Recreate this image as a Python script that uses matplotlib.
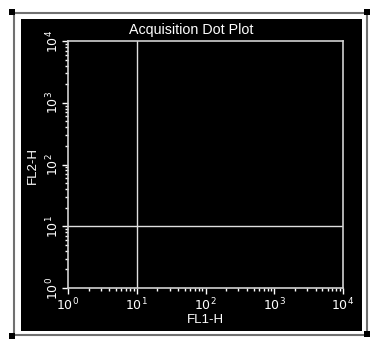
import matplotlib
matplotlib.use("Agg")
import matplotlib.pyplot as plt
from matplotlib.patches import Rectangle

title = "Acquisition Dot Plot"
x_label = "FL1-H"
y_label = "FL2-H"
x_range = [1, 10000]
y_range = [1, 10000]
major_ticks = [1, 10, 100, 1000, 10000]
tick_labels = [r"$10^{0}$", r"$10^{1}$", r"$10^{2}$", r"$10^{3}$", r"$10^{4}$"]
quadrant_x = 10
quadrant_y = 10

W, H = 370, 339
fig = plt.figure(figsize=(W / 100, H / 100), dpi=100, facecolor="white")

def fx(px):
    return px / W

def fy(py):
    return 1 - py / H

# outer grey border
fig.patches.append(Rectangle((fx(14), fy(335)), fx(367) - fx(14), fy(13) - fy(335),
                             transform=fig.transFigure, fill=False, edgecolor="#707070",
                             lw=1.5, zorder=-2))
# black panel
fig.patches.append(Rectangle((fx(21), fy(331)), fx(362) - fx(21), fy(19) - fy(331),
                             transform=fig.transFigure, facecolor="black", edgecolor="none",
                             zorder=-1))
# corner handles
for cx, cy in [(12, 12), (12, 336), (367, 12), (367, 334)]:
    fig.patches.append(Rectangle((fx(cx - 3), fy(cy + 3)), 6 / W, 6 / H,
                                 transform=fig.transFigure, facecolor="black",
                                 edgecolor="none", zorder=-1))

ax = fig.add_axes([fx(68), fy(288), fx(343) - fx(68), fy(41) - fy(288)])
ax.set_facecolor("black")
ax.set_xscale("log")
ax.set_yscale("log")
ax.set_xlim(x_range)
ax.set_ylim(y_range)
for s in ax.spines.values():
    s.set_color("#d0d0d0")
    s.set_linewidth(1.2)

ax.axvline(quadrant_x, color="#e0e0e0", lw=1)
ax.axhline(quadrant_y, color="#e0e0e0", lw=1)

ax.set_xticks(major_ticks)
ax.set_xticklabels(tick_labels)
ax.set_yticks(major_ticks)
ax.set_yticklabels(tick_labels, rotation=90, va="center")
ax.tick_params(axis="both", which="major", colors="white", length=4, width=1, labelsize=9, pad=2)
ax.tick_params(axis="both", which="minor", colors="white", length=2.5, width=1)
ax.tick_params(axis="y", which="major", pad=1)

ax.set_xlabel(x_label, color="white", fontsize=9.5, fontfamily="Liberation Sans")
ax.xaxis.set_label_coords((205 - 68) / (343 - 68), -(320 - 288) / (288 - 41), transform=ax.transAxes)
ax.set_ylabel(y_label, color="white", fontsize=9.5, fontfamily="Liberation Sans")
ax.yaxis.set_label_coords(-(68 - 33) / (343 - 68), (288 - 165) / (288 - 41), transform=ax.transAxes)
ax.xaxis.label.set_va("center")
ax.yaxis.label.set_va("center")
fig.text(fx(191), fy(30), title, color="white", fontsize=10.3, ha="center", va="center",
         fontfamily="Liberation Sans")

fig.savefig("out.png", dpi=100, facecolor="white")
